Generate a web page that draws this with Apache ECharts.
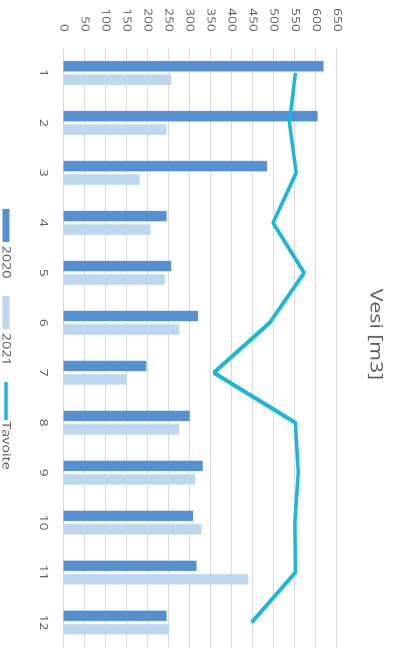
<!DOCTYPE html>
<html>
<head>
<meta charset="utf-8">
<script src="https://cdn.jsdelivr.net/npm/echarts@6/dist/echarts.min.js"></script>
<style>
  html, body { margin: 0; padding: 0; background: #ffffff; overflow: hidden; width: 393px; height: 648px; }
  #chart { position: absolute; left: 0; top: 0; width: 518px; height: 393px;
           transform-origin: 0 0; transform: translate(393px, 0) rotate(90deg) scaleX(1.25); }
</style>
</head>
<body>
<div id="chart"></div>
<script>
const months = ['1','2','3','4','5','6','7','8','9','10','11','12'];
const values2020 = [618, 604, 484, 245, 256, 320, 197, 300, 331, 308, 316, 245];
const values2021 = [256, 245, 181, 207, 241, 275, 150, 275, 313, 328, 439, 251];
const tavoite = [551, 537, 553, 498, 572, 490, 357, 551, 558, 550, 551, 447];
const valueTicks = { min: 0, max: 650, interval: 50 };

const chart = echarts.init(document.getElementById('chart'), null, { renderer: 'canvas', devicePixelRatio: 2 });
const txt = '#595959';
const font = 'Open Sans';
chart.setOption({
  backgroundColor: '#ffffff',
  animation: false,
  title: {
    text: 'Vesi [m3]', left: 231, top: 9, padding: 0,
    textStyle: { fontFamily: font, fontSize: 17, fontWeight: 'normal', color: txt }
  },
  legend: [
    {
      left: 167, bottom: 0, padding: 0, itemGap: 14,
      itemWidth: 26.5, itemHeight: 7,
      textStyle: { fontFamily: font, fontSize: 11.5, color: txt, padding: [0, 0, 0, -2] },
      data: [ { name: '2020', icon: 'rect' }, { name: '2021', icon: 'rect' } ]
    },
    {
      left: 305.5, bottom: 0, padding: 0,
      itemWidth: 30.5, itemHeight: 3.5,
      textStyle: { fontFamily: font, fontSize: 11.5, color: txt, padding: [0, 0, 0, -4] },
      data: [ { name: 'Tavoite', icon: 'rect' } ]
    }
  ],
  grid: { left: 38.4, right: -7.5, top: 56, bottom: 63.5 },
  xAxis: {
    type: 'category', data: months,
    axisLine: { show: true, lineStyle: { color: '#d9d9d9', width: 1 } },
    axisTick: { show: false },
    axisLabel: { color: txt, fontFamily: font, fontSize: 11, margin: 15 }
  },
  yAxis: {
    type: 'value', min: valueTicks.min, max: valueTicks.max, interval: valueTicks.interval,
    axisLine: { show: false }, axisTick: { show: false },
    splitLine: { lineStyle: { color: '#d9d9d9', width: 1 } },
    axisLabel: { color: txt, fontFamily: font, fontSize: 11, margin: 13 }
  },
  series: [
    { name: '2020', type: 'bar', data: values2020, barWidth: 8.4, barGap: '28%',
      itemStyle: { color: '#5590d2' } },
    { name: '2021', type: 'bar', data: values2021, barWidth: 8.4,
      itemStyle: { color: '#bdd7ee' } },
    { name: 'Tavoite', type: 'line', data: tavoite, symbol: 'none',
      lineStyle: { color: '#1cb6da', width: 3.5 }, itemStyle: { color: '#1cb6da' } }
  ]
});
</script>
</body>
</html>
